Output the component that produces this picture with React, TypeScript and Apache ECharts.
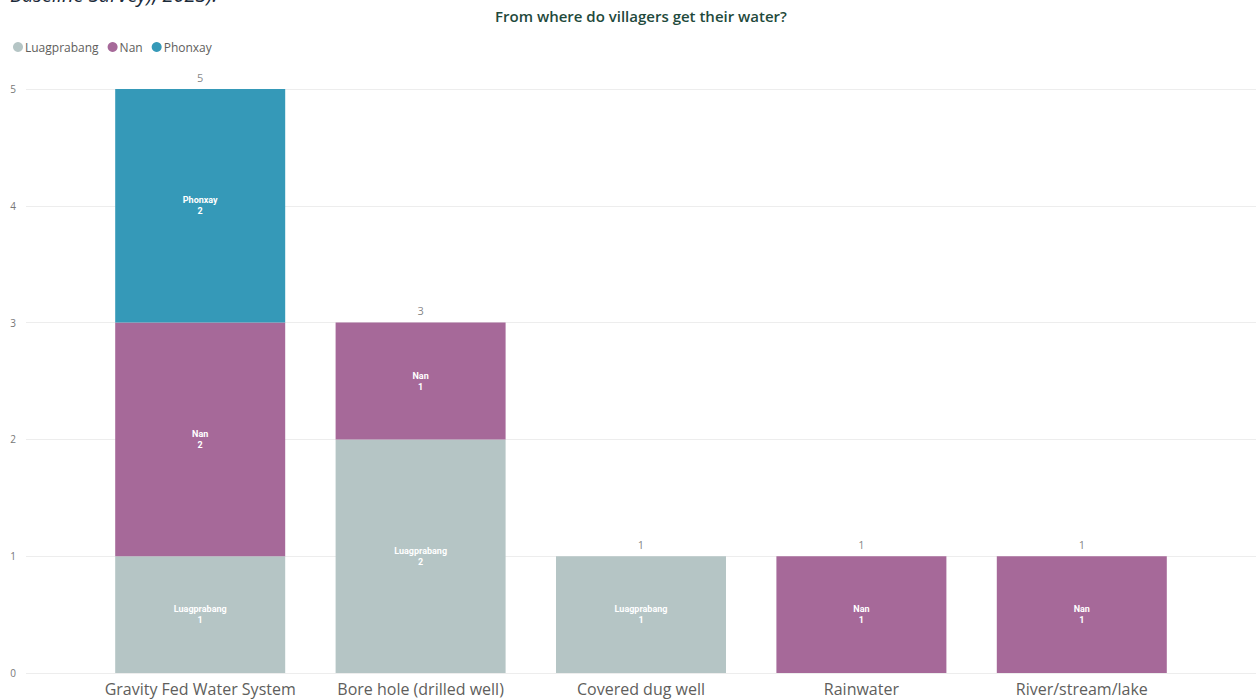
import React, { useEffect, useRef } from "react";
import * as echarts from "echarts";

const categories = [
  "Gravity Fed Water System",
  "Bore hole (drilled well)",
  "Covered dug well",
  "Rainwater",
  "River/stream/lake",
];
const luagprabang = [1, 2, 1, 0, 0];
const nan = [2, 1, 0, 1, 1];
const phonxay = [2, 0, 0, 0, 0];
const yTicks = [0, 1, 2, 3, 4, 5];

const seriesDefs = [
  { name: "Luagprabang", data: luagprabang, color: "#B5C5C5" },
  { name: "Nan", data: nan, color: "#A66999" },
  { name: "Phonxay", data: phonxay, color: "#3599B8" },
];

const FONT = "'Open Sans', 'Noto Sans', sans-serif";

export default function App() {
  const ref = useRef<HTMLDivElement>(null);
  useEffect(() => {
    if (!ref.current) return;
    const chart = echarts.init(ref.current, undefined, { renderer: "svg" });
    const totals = categories.map((_, i) =>
      seriesDefs.reduce((s, d) => s + d.data[i], 0)
    );
    const yMax = yTicks[yTicks.length - 1];
    chart.setOption({
      animation: false,
      backgroundColor: "#ffffff",
      textStyle: { fontFamily: FONT },
      title: {
        text: "From where do villagers get their water?",
        left: 636,
        textAlign: "center",
        top: 3,
        textStyle: {
          fontFamily: FONT,
          fontSize: 15,
          fontWeight: 600,
          color: "#1F4A3C",
        },
      },
      graphic: [
        {
          type: "text",
          left: 10,
          top: -16,
          style: {
            text: "Baseline Survey), 2023).",
            fontFamily: FONT,
            fontSize: 20,
            fontStyle: "italic",
            fill: "#1B2A3A",
          },
        },
      ],
      legend: {
        data: seriesDefs.map((d) => d.name),
        left: 8,
        top: 36,
        icon: "circle",
        itemWidth: 10,
        itemHeight: 10,
        itemGap: 9,
        textStyle: { fontFamily: FONT, fontSize: 12, color: "#605E5C", padding: [0, 0, 0, -3] },
      },
      grid: [
        { left: 90, right: 64, top: 89, bottom: 27 },
        { left: 26, right: 0, top: 89, bottom: 27 },
      ],
      xAxis: [
        {
          type: "category",
          gridIndex: 0,
          data: categories,
          axisLine: { show: false },
          axisTick: { show: false },
          axisLabel: {
            fontFamily: FONT,
            fontSize: 16,
            color: "#605E5C",
            margin: 8,
            interval: 0,
          },
        },
        { type: "value", gridIndex: 1, show: false, min: 0, max: 1 },
      ],
      yAxis: [
        {
          type: "value",
          gridIndex: 0,
          min: 0,
          max: yMax,
          interval: 1,
          axisLabel: { show: false },
          splitLine: { show: false },
          axisLine: { show: false },
          axisTick: { show: false },
        },
        {
          type: "value",
          gridIndex: 1,
          min: 0,
          max: yMax,
          interval: 1,
          axisLabel: { fontFamily: FONT, fontSize: 10, color: "#777777", margin: 10 },
          splitLine: { lineStyle: { color: "#EDEDED", width: 1 } },
          axisLine: { show: false },
          axisTick: { show: false },
        },
      ],
      series: [
        ...seriesDefs.map((d) => ({
          name: d.name,
          type: "bar",
          stack: "total",
          xAxisIndex: 0,
          yAxisIndex: 0,
          barWidth: 170,
          data: d.data.map((v) => (v === 0 ? "-" : v)),
          itemStyle: { color: d.color },
          label: {
            show: true,
            position: "inside",
            formatter: (p: any) => `${p.seriesName}\n${p.value}`,
            fontFamily: "Roboto, sans-serif",
            fontSize: 9,
            fontWeight: "bold",
            color: "#ffffff",
            lineHeight: 11,
          },
        })),
        {
          name: "total",
          type: "scatter",
          xAxisIndex: 0,
          yAxisIndex: 0,
          symbolSize: 1,
          itemStyle: { color: "rgba(0,0,0,0)" },
          data: totals,
          label: {
            show: true,
            position: "top",
            distance: 6,
            fontFamily: FONT,
            fontSize: 11,
            color: "#666666",
          },
          silent: true,
        },
      ],
    });
    return () => chart.dispose();
  }, []);
  return (
    <div
      ref={ref}
      style={{ position: "absolute", left: 0, top: 0, width: 1256, height: 700 }}
    />
  );
}
